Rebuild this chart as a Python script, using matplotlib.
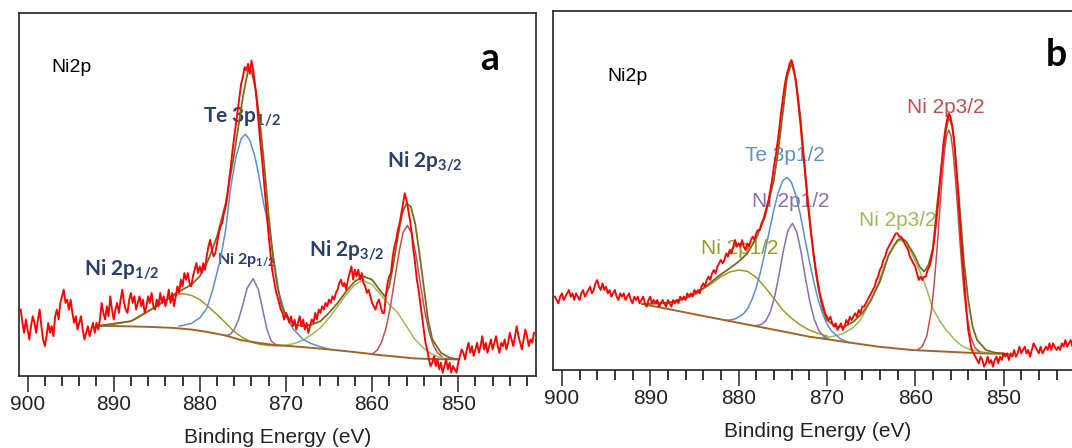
import numpy as np
import matplotlib
matplotlib.use("Agg")
import matplotlib.pyplot as plt
from matplotlib.ticker import MultipleLocator

plt.rcParams['font.family'] = ['Liberation Sans', 'DejaVu Sans']
plt.rcParams['mathtext.fontset'] = 'custom'
plt.rcParams['mathtext.rm'] = 'Lato'
plt.rcParams['mathtext.bf'] = 'Lato:bold'
plt.rcParams['mathtext.it'] = 'Lato'

# ---- data (intensity in arbitrary units) ----
# raw spectra sampled every 0.2 eV from 900.8 eV downwards, one row = 2 eV
E_START, E_STEP = 900.8, 0.2

raw_a = [20, 16, 13, 17, 14, 11, 15, 18, 16, 13,
         17, 20, 15, 11, 9, 12, 16, 13, 15, 12,
         18, 20, 17, 22, 24, 26, 22, 23, 20, 23,
         19, 16, 18, 14, 16, 18, 14, 11, 13, 15,
         12, 14, 16, 13, 16, 14, 17, 22, 19, 17,
         21, 18, 24, 20, 17, 20, 22, 19, 23, 26,
         22, 20, 19, 23, 25, 22, 24, 20, 22, 24,
         21, 23, 19, 21, 24, 22, 25, 21, 20, 23,
         21, 25, 22, 24, 21, 23, 26, 22, 25, 21,
         24, 27, 25, 29, 27, 31, 29, 31, 28, 27,
         30, 32, 34, 31, 33, 31, 34, 32, 36, 39,
         41, 38, 36, 37, 40, 43, 45, 46, 49, 51,
         54, 59, 63, 68, 72, 76, 80, 84, 88, 90,
         93, 92, 94, 91, 95, 92, 88, 83, 77, 71,
         66, 60, 54, 48, 42, 37, 32, 29, 26, 24,
         22, 20, 19, 17, 19, 18, 16, 18, 15, 17,
         14, 16, 18, 15, 17, 14, 16, 13, 15, 17,
         16, 19, 17, 20, 19, 21, 20, 22, 21, 23,
         22, 24, 23, 25, 26, 28, 29, 27, 28, 26,
         29, 31, 33, 29, 32, 30, 32, 29, 31, 28,
         27, 25, 26, 24, 22, 21, 20, 22, 23, 21,
         19, 19, 24, 28, 30, 31, 36, 39, 41, 44,
         46, 49, 52, 55, 53, 50, 47, 43, 38, 34,
         29, 26, 22, 18, 14, 10, 8, 5, 3, 4,
         6, 3, 5, 2, 4, 1, 3, 5, 2, 4,
         1, 3, 2, 1, 4, 6, 8, 7, 5, 8,
         10, 7, 9, 6, 8, 10, 7, 9, 12, 8,
         10, 7, 9, 11, 8, 10, 12, 9, 7, 10,
         9, 11, 8, 10, 13, 11, 9, 12, 15, 12,
         10, 8, 11, 14, 12, 9, 11, 10, 13]

raw_b = [22, 21, 20, 22, 23, 21, 22, 23, 24, 22,
         23, 21, 23, 22, 21, 23, 24, 22, 23, 24,
         25, 23, 24, 26, 27, 25, 24, 26, 24, 25,
         23, 24, 22, 23, 24, 22, 21, 23, 22, 23,
         21, 22, 23, 21, 20, 22, 21, 22, 20, 21,
         22, 20, 19, 21, 22, 20, 21, 20, 21, 19,
         20, 21, 20, 19, 21, 20, 19, 21, 20, 21,
         20, 22, 21, 22, 21, 23, 22, 23, 22, 24,
         23, 24, 23, 25, 26, 25, 27, 28, 27, 29,
         30, 29, 31, 32, 33, 32, 33, 35, 34, 36,
         35, 37, 39, 37, 38, 37, 39, 37, 36, 38,
         37, 39, 40, 39, 41, 42, 42, 44, 45, 47,
         49, 51, 54, 57, 61, 64, 68, 72, 77, 81,
         85, 88, 90, 92, 93, 91, 88, 84, 79, 74,
         68, 63, 57, 51, 46, 41, 37, 33, 29, 26,
         23, 21, 19, 17, 16, 15, 16, 14, 13, 14,
         12, 13, 14, 12, 13, 15, 14, 16, 15, 16,
         17, 16, 18, 17, 19, 19, 20, 21, 22, 23,
         24, 25, 27, 28, 30, 31, 33, 34, 36, 37,
         38, 39, 40, 41, 41, 40, 40, 39, 38, 37,
         36, 34, 33, 32, 31, 29, 27, 28, 27, 28,
         28, 30, 31, 33, 36, 40, 45, 50, 56, 62,
         68, 72, 75, 77, 76, 73, 69, 62, 55, 47,
         39, 32, 25, 18, 12, 9, 6, 5, 4, 3,
         2, 4, 3, 1, 2, 4, 2, 3, 1, 3,
         4, 2, 4, 3, 5, 4, 5, 3, 5, 4,
         6, 4, 5, 7, 5, 6, 7, 5, 6, 4,
         6, 8, 7, 6, 5, 7, 5, 6, 7, 6,
         8, 6, 8, 7, 6, 7, 6, 8, 7, 9,
         7, 8, 9, 7, 8, 7, 9, 8, 7]

# panel a fit components
bg_a_e = [891.8, 889, 886, 883.2, 881, 879.2, 877, 875.2, 873, 871.2, 869, 867.1, 865, 863.1, 861, 859.1, 857, 855.1, 853, 850]
bg_a_i = [15.1, 15.0, 14.8, 14.5, 14.0, 13.3, 12.2, 10.8, 9.9, 9.3, 8.9, 8.5, 8.0, 7.5, 6.9, 6.3, 5.8, 5.3, 5.1, 5.0]

te_a_e = [882.4, 881, 880, 879.2, 878.5, 877.6, 877, 876.4, 875.8, 875.2, 874.7, 874.2, 873.6, 873.2, 872.6, 872, 871.4, 870.8, 870, 869.2, 868, 867.1, 866, 865]
te_a_i = [15, 15.8, 17.5, 20.3, 26, 35.3, 44, 57, 66, 71.5, 72.8, 71, 66, 61, 52, 45, 35, 25, 18, 14.3, 11, 9.8, 8.8, 8.1]

ni12_a_e = [877, 876.5, 876, 875.5, 875, 874.5, 873.8, 873.2, 872.7, 872.2, 871.7, 871.2, 870.7]
ni12_a_i = [12.1, 12.5, 14, 17, 21.5, 26.5, 29.3, 26, 20, 14, 10.5, 9.5, 9.2]

sat12_a_e = [891.8, 890, 888, 887.2, 886, 885, 884, 883, 882, 881, 880, 879.2, 878, 877, 876, 875, 874, 873, 872, 871]
sat12_a_i = [15.1, 15.6, 16.5, 17.5, 19.5, 21, 22.8, 24.2, 24.8, 24.3, 23, 21.3, 18.5, 16, 13.3, 11.5, 10.2, 9.5, 9.2, 9.1]

sat32_a_e = [871, 870, 869, 868, 867.1, 866, 865, 864, 863, 862, 861.1, 860, 859, 858, 857.1, 856, 855.1, 854, 853, 852, 851]
sat32_a_i = [9.1, 9.3, 9.8, 10.8, 12.3, 14.5, 17.5, 21, 24.5, 27.5, 28.8, 27.5, 24.5, 21.5, 19.3, 15, 11.3, 8.3, 6.5, 5.5, 5.1]

ni32_a_e = [859.9, 859.4, 858.9, 858.4, 857.9, 857.4, 856.9, 856.4, 855.9, 855.4, 854.9, 854.4, 853.9, 853.4, 852.9, 852.4, 851.9]
ni32_a_i = [6.8, 7.8, 10.2, 14.2, 20.4, 28.5, 36.8, 43.2, 45.3, 43.0, 36.4, 28.0, 19.8, 13.5, 9.4, 7.0, 5.9]

env_a_e = [891.8, 888, 885, 883, 882, 881, 880, 879, 878, 877, 876, 875, 874.4, 874, 873.5, 873, 872.5, 872, 871.5, 871, 870.5, 870,
           869, 868, 867, 866, 865, 864, 863, 862, 861, 860, 859, 858.5, 858, 857.5, 857, 856.5, 856, 855.5, 855, 854.5, 854,
           853.5, 853, 852, 851, 850]
env_a_i = [15.1, 16.5, 21, 24.5, 26, 27.5, 30, 35, 42, 52, 67, 84, 92, 92, 86, 76, 63, 48, 36, 27, 21, 18,
           15.5, 15, 15.5, 16.5, 19, 22, 25.5, 28.5, 30, 29, 25.5, 24, 27, 34, 42, 49, 52, 51, 46, 37, 27,
           17, 11, 7, 5.5, 5]

# panel b fit components
bg_b_e = [890.9, 887.4, 883.6, 879.7, 875.8, 872, 868.1, 864.2, 860.4, 856.5, 852.6, 849.5]
bg_b_i = [19.8, 18, 16, 14, 12, 10, 8.5, 7, 6, 5.5, 5, 4.8]

sat12_b_e = [890.9, 889, 887.4, 886, 885, 884, 883, 882, 881, 880, 879, 878, 877, 876, 875, 874, 873, 872, 871, 870]
sat12_b_i = [19.8, 20, 20.5, 21.5, 22.5, 24.3, 26, 28, 29.4, 30, 29.6, 27.8, 24.8, 21.5, 18, 15.5, 13.5, 12, 11, 10.2]

te_b_e = [881.5, 880.5, 879.5, 879, 878.5, 878, 877.5, 877, 876.5, 876, 875.5, 875, 874.5, 874, 873.5, 873, 872.5, 872, 871.5, 871, 870.5, 870, 869.5, 868.5, 867.5]
te_b_i = [14.9, 15.2, 16.7, 18.3, 21.0, 24.7, 29.5, 35.5, 41.9, 48.1, 53.3, 56.8, 57.8, 56.2, 52.3, 46.5, 39.6, 32.9, 26.7, 21.2, 17.0, 13.9, 11.8, 9.4, 8.2]

ni12_b_e = [877.9, 877.4, 876.9, 876.4, 875.9, 875.4, 874.9, 874.4, 873.9, 873.4, 872.9, 872.4, 871.9, 871.4, 870.9, 870.4, 869.9]
ni12_b_i = [13.4, 13.7, 14.8, 17.5, 22.1, 28.8, 36.1, 41.9, 44, 41.4, 35.1, 27.2, 20.1, 15.0, 11.8, 10.2, 9.4]

sat32_b_e = [871, 870, 869, 868.1, 867, 866.2, 865.2, 864.2, 863.1, 862.4, 861.7, 861, 860.4, 859.8, 859.2, 858.6, 858.1, 857.3, 856.5, 855.5, 854.6, 853.6, 852.6, 851.6]
sat32_b_i = [9.6, 9.8, 10.3, 11, 12.8, 15, 20, 26, 34, 37.5, 39, 38, 35, 31.5, 28, 23.5, 19, 15, 12, 9, 7, 6, 5.5, 5.1]

ni32_b_e = [859.7, 859.2, 858.7, 858.2, 857.95, 857.7, 857.45, 857.2, 856.95, 856.7, 856.45, 856.2, 855.95, 855.7, 855.45, 855.2, 854.95, 854.7, 854.45, 854.2, 853.7, 853.2, 852.7]
ni32_b_i = [6.1, 7.1, 10.1, 17.3, 23.2, 30.6, 39.3, 48.7, 57.7, 65.2, 70.3, 72.0, 70.2, 65.1, 57.5, 48.5, 39.0, 30.3, 22.9, 17.0, 9.7, 6.6, 5.5]

env_b_e = [890.9, 888, 886, 884, 882, 881, 880, 879, 878, 877, 876, 875.5, 875, 874.5, 874, 873.5, 873, 872.5, 872, 871.5, 871, 870.5, 870,
           869, 868, 867, 866, 865, 864, 863, 862, 861.5, 861, 860, 859.5, 859, 858.5, 858, 857.5, 857, 856.5, 856.2, 855.8, 855.5,
           855, 854.5, 854, 853.5, 853, 852, 851, 850]
env_b_i = [19.8, 20.1, 21.6, 24.5, 28.7, 30.5, 32.5, 35, 39.5, 46, 57, 66, 77, 88, 92, 87, 76, 61, 47, 34, 25, 18.5, 15,
           13, 13, 14.5, 17, 21, 26.5, 34.5, 39, 39.5, 38.5, 34, 31, 29.5, 31.5, 36.5, 50, 62, 72, 76, 73, 66,
           50, 33, 21, 13, 9, 6, 5.2, 5]

RED = '#ff0000'
BLUE = '#5b8fd0'
PURPLE = '#8a6db0'
OLIVE = '#9a9a28'
GREEN = '#9bbb59'
PINK = '#c0504d'
BROWN = '#a0642a'
ENV = '#7a6a20'
NAVY = '#2a3f6a'


def draw_panel(ax, raw, comps, env, bg, ylim):
    e = E_START - E_STEP * np.arange(len(raw))
    for ce, ci, col in comps:
        ax.plot(ce, ci, color=col, lw=1.1, zorder=3)
    ax.plot(bg[0], bg[1], color=BROWN, lw=1.4, zorder=3)
    ax.plot(env[0], env[1], color=ENV, lw=1.3, zorder=4)
    ax.plot(e, raw, color=RED, lw=1.35, zorder=5)
    ax.set_xlim(901.0, 841.0)
    ax.set_ylim(*ylim)
    ax.set_yticks([])
    ax.xaxis.set_major_locator(MultipleLocator(10))
    ax.xaxis.set_minor_locator(MultipleLocator(2))
    ax.tick_params(axis='x', which='major', direction='out', length=11.5, width=1.1, pad=2, labelsize=15, colors='#222222')
    ax.tick_params(axis='x', which='minor', direction='out', length=7, width=1.1)
    for sp in ax.spines.values():
        sp.set_linewidth(1.2)
        sp.set_color('#222222')
    ax.set_xlabel('Binding Energy (eV)', fontsize=15, labelpad=10, color='#222222')


fig = plt.figure(figsize=(10.72, 4.48), dpi=100)
ax_a = fig.add_axes([0.0177, 0.1607, 0.482, 0.8103])
ax_b = fig.add_axes([0.5159, 0.1741, 0.4944, 0.8013])

draw_panel(ax_a, raw_a,
           [(sat12_a_e, sat12_a_i, OLIVE), (sat32_a_e, sat32_a_i, GREEN), (te_a_e, te_a_i, BLUE),
            (ni12_a_e, ni12_a_i, PURPLE), (ni32_a_e, ni32_a_i, PINK)],
           (env_a_e, env_a_i), (bg_a_e, bg_a_i), (0, 109.3))
draw_panel(ax_b, raw_b,
           [(sat12_b_e, sat12_b_i, OLIVE), (sat32_b_e, sat32_b_i, GREEN), (te_b_e, te_b_i, BLUE),
            (ni12_b_e, ni12_b_i, PURPLE), (ni32_b_e, ni32_b_i, PINK)],
           (env_b_e, env_b_i), (bg_b_e, bg_b_i), (0, 107.7))

# panel a labels
ax_a.text(897.2, 92.8, 'Ni2p', fontsize=14, va='center', ha='left', zorder=1)
ax_a.text(846.4, 95.3, 'a', fontsize=27, fontweight='bold', family='Lato', va='center', ha='center', zorder=1)
lab = dict(family='Lato', fontweight='bold', color=NAVY, va='baseline', ha='left', zorder=1)
ax_a.text(879.6, 76.3, r'Te 3p$_{\mathbf{1/2}}$', fontsize=15, **lab)
ax_a.text(858.3, 62.8, r'Ni 2p$_{\mathbf{3/2}}$', fontsize=15, **lab)
ax_a.text(893.4, 30.3, r'Ni 2p$_{\mathbf{1/2}}$', fontsize=15, **lab)
ax_a.text(867.3, 35.8, r'Ni 2p$_{\mathbf{3/2}}$', fontsize=15, **lab)
ax_a.text(878.0, 33.8, r'Ni 2p$_{\mathbf{1/2}}$', fontsize=11.5, **lab)

# panel b labels
ax_b.text(894.8, 88.0, 'Ni2p', fontsize=14, va='center', ha='left', zorder=1)
ax_b.text(844.0, 94.5, 'b', fontsize=27, fontweight='bold', family='Lato', va='center', ha='center', zorder=1)
ax_b.text(860.9, 77.0, 'Ni 2p3/2', fontsize=15, color=PINK, va='baseline', ha='left', zorder=1)
ax_b.text(879.3, 62.7, 'Te 3p1/2', fontsize=15, color=BLUE, va='baseline', ha='left', zorder=1)
ax_b.text(878.5, 48.8, 'Ni 2p1/2', fontsize=15, color=PURPLE, va='baseline', ha='left', zorder=1)
ax_b.text(866.4, 43.2, 'Ni 2p3/2', fontsize=15, color=GREEN, va='baseline', ha='left', zorder=1)
ax_b.text(884.3, 34.8, 'Ni 2p1/2', fontsize=15, color=OLIVE, va='baseline', ha='left', zorder=1)

fig.savefig('out.png', dpi=100)
